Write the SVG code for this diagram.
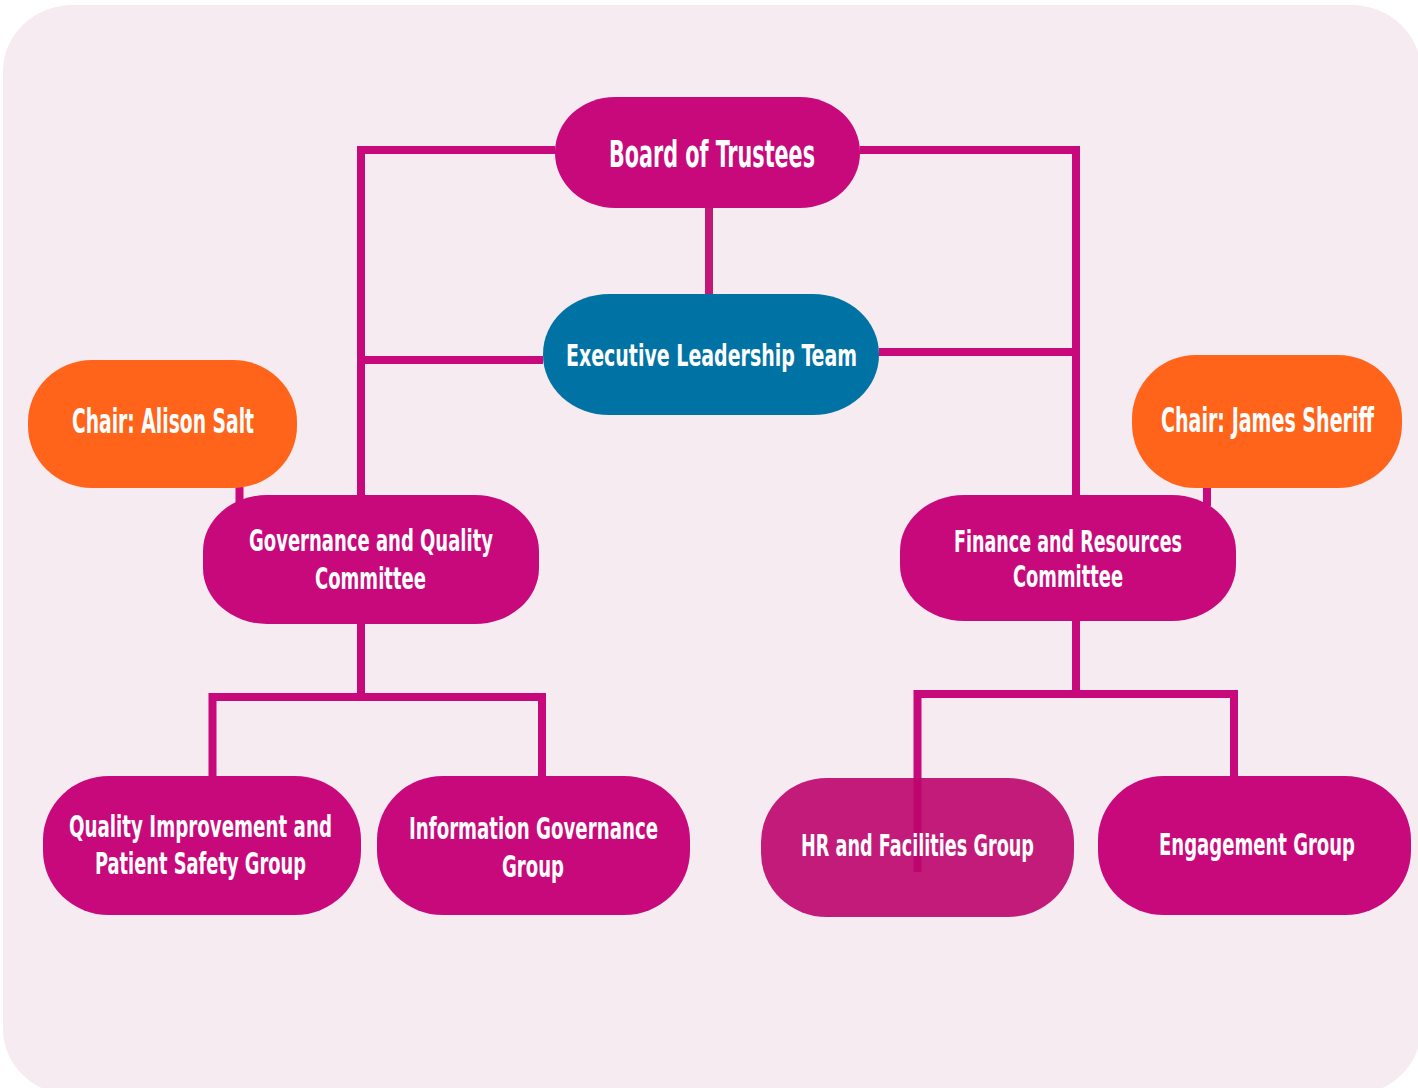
<svg xmlns="http://www.w3.org/2000/svg" width="1418" height="1088" viewBox="0 0 1418 1088">
<style>
.bg{fill:#f7ebf2}
.mag{fill:#c8097b}
.blue{fill:#0072a3}
.orange{fill:#ff641a}
.hr{fill:#bd046d;fill-opacity:0.9}
.conn{fill:none;stroke:#c8097b;stroke-width:8;stroke-linecap:butt;stroke-linejoin:miter}
text{font-family:"DejaVu Sans Condensed","DejaVu Sans",sans-serif;font-weight:bold;font-stretch:condensed;fill:#ffffff;text-anchor:middle}
.t31{font-size:22.1px}
.t33{font-size:23.6px}
.t38{font-size:27.1px}
</style>
<rect x="0" y="0" width="1418" height="1088" fill="#ffffff"/>
<rect class="bg" x="3" y="5" width="1418" height="1090" rx="70" ry="66"/>
<g id="connectors">
<path class="conn" d="M555,150 H361 V495"/>
<path class="conn" d="M543,360 H361"/>
<path class="conn" style="stroke:#c41878" d="M709,208 V294"/>
<path class="conn" d="M860,150 H1076 V495"/>
<path class="conn" d="M879,352 H1076"/>
<path class="conn" d="M239.5,487 V503"/>
<path class="conn" d="M1207,487 V506"/>
<path class="conn" d="M361,624 V697"/>
<path class="conn" d="M212.5,776 V697 H542 V776"/>
<path class="conn" d="M1076,620 V694"/>
<path class="conn" d="M917.5,872 V694 H1234 V776"/>
</g>
<g id="board">
<rect class="mag" x="555" y="97" width="305" height="111" rx="60" ry="55"/>
<text class="t38" transform="translate(712,167) scale(1,1.4)" textLength="206" lengthAdjust="spacingAndGlyphs">Board of Trustees</text>
</g>
<g id="exec">
<rect class="blue" x="543" y="294" width="336" height="121" rx="66" ry="60"/>
<text class="t31" transform="translate(711.5,366) scale(1,1.4)" textLength="291" lengthAdjust="spacingAndGlyphs">Executive Leadership Team</text>
</g>
<g id="chair-alison">
<rect class="orange" x="28" y="360" width="269" height="128" rx="64" ry="62"/>
<text class="t33" transform="translate(163,433) scale(1,1.4)" textLength="182" lengthAdjust="spacingAndGlyphs">Chair: Alison Salt</text>
</g>
<g id="chair-james">
<rect class="orange" x="1132" y="355" width="270" height="133" rx="64" ry="64"/>
<text class="t33" transform="translate(1267.5,432) scale(1,1.4)" textLength="213" lengthAdjust="spacingAndGlyphs">Chair: James Sheriff</text>
</g>
<g id="governance">
<rect class="mag" x="203" y="495" width="336" height="129" rx="64" ry="56"/>
<text class="t31" transform="translate(371,551) scale(1,1.4)" textLength="244" lengthAdjust="spacingAndGlyphs">Governance and Quality</text>
<text class="t31" transform="translate(370.5,589) scale(1,1.4)" textLength="111" lengthAdjust="spacingAndGlyphs">Committee</text>
</g>
<g id="finance">
<rect class="mag" x="900" y="495" width="336" height="126" rx="64" ry="56"/>
<text class="t31" transform="translate(1068,552) scale(1,1.4)" textLength="228" lengthAdjust="spacingAndGlyphs">Finance and Resources</text>
<text class="t31" transform="translate(1068,587) scale(1,1.4)" textLength="110" lengthAdjust="spacingAndGlyphs">Committee</text>
</g>
<g id="quality">
<rect class="mag" x="43" y="776" width="318" height="139" rx="66" ry="64"/>
<text class="t31" transform="translate(200.5,837) scale(1,1.4)" textLength="263" lengthAdjust="spacingAndGlyphs">Quality Improvement and</text>
<text class="t31" transform="translate(200.5,874) scale(1,1.4)" textLength="211" lengthAdjust="spacingAndGlyphs">Patient Safety Group</text>
</g>
<g id="information">
<rect class="mag" x="377" y="776" width="313" height="139" rx="66" ry="64"/>
<text class="t31" transform="translate(533.5,839) scale(1,1.4)" textLength="249" lengthAdjust="spacingAndGlyphs">Information Governance</text>
<text class="t31" transform="translate(533,877) scale(1,1.4)" textLength="62" lengthAdjust="spacingAndGlyphs">Group</text>
</g>
<g id="hr">
<rect class="hr" x="761" y="778" width="313" height="139" rx="66" ry="64"/>
<text class="t31" transform="translate(917.5,856) scale(1,1.4)" textLength="233" lengthAdjust="spacingAndGlyphs">HR and Facilities Group</text>
</g>
<g id="engagement">
<rect class="mag" x="1098" y="776" width="313" height="139" rx="66" ry="64"/>
<text class="t31" transform="translate(1257,855) scale(1,1.4)" textLength="196" lengthAdjust="spacingAndGlyphs">Engagement Group</text>
</g>
</svg>
